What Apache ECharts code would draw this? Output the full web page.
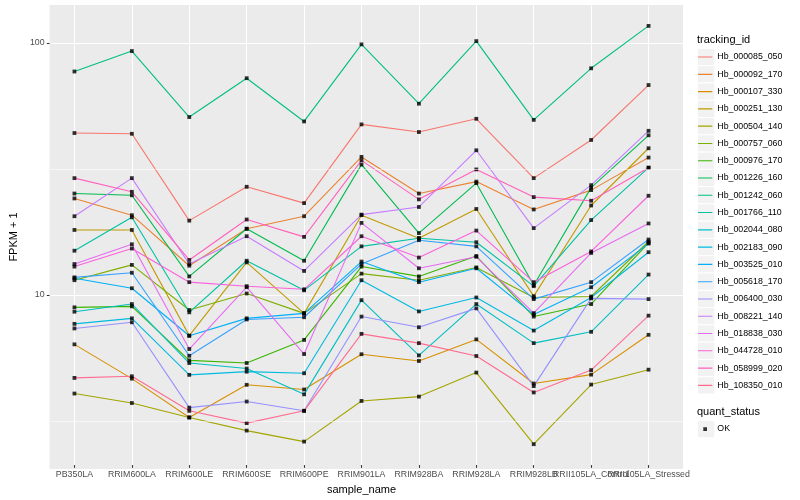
<!DOCTYPE html>
<html><head><meta charset="utf-8">
<script src="https://cdn.jsdelivr.net/npm/echarts@6/dist/echarts.min.js"></script>
<style>html,body{margin:0;padding:0;background:#fff}#c{width:800px;height:500px}</style>
</head><body><div id="c"></div>
<script>
const categories = ['PB350LA','RRIM600LA','RRIM600LE','RRIM600SE','RRIM600PE','RRIM901LA','RRIM928BA','RRIM928LA','RRIM928LB','RRII105LA_Control','RRII105LA_Stressed'];
const seriesNames = ['Hb_000085_050','Hb_000092_170','Hb_000107_330','Hb_000251_130','Hb_000504_140','Hb_000757_060','Hb_000976_170','Hb_001226_160','Hb_001242_060','Hb_001766_110','Hb_002044_080','Hb_002183_090','Hb_003525_010','Hb_005618_170','Hb_006400_030','Hb_008221_140','Hb_018838_030','Hb_044728_010','Hb_058999_020','Hb_108350_010'];
const seriesColors = ['#F8766D','#EA8331','#D89000','#C09B00','#A3A500','#7CAE00','#39B600','#00BB4E','#00BF7D','#00C1A3','#00BFC4','#00BAE0','#00B0F6','#35A2FF','#9590FF','#C77CFF','#E76BF3','#FA62DB','#FF62BC','#FF6C91'];

const hb000085_050 = [43.5, 43.2, 19.4, 26.5, 22.8, 47.1, 43.9, 49.6, 28.7, 40.8, 67.7];
const hb000092_170 = [23.8, 20.4, 12.8, 18.0, 20.2, 34.9, 24.9, 27.8, 21.5, 25.7, 34.7];
const hb000107_330 = [6.2, 4.52, 3.16, 4.27, 4.09, 5.66, 5.32, 6.49, 4.32, 4.69, 6.77];
const hb000251_130 = [17.8, 17.8, 6.72, 13.2, 8.25, 20.4, 16.5, 21.6, 9.67, 22.3, 37.8];
const hb000504_140 = [3.94, 3.61, 3.16, 2.80, 2.53, 3.68, 3.83, 4.78, 2.47, 4.28, 4.91];
const hb000757_060 = [11.2, 12.9, 8.51, 9.91, 8.25, 11.9, 11.2, 12.6, 9.55, 9.64, 16.0];
const hb000976_170 = [8.72, 8.80, 5.35, 5.22, 6.46, 12.7, 11.6, 14.0, 8.01, 8.99, 15.8];
const hb001226_160 = [24.9, 24.5, 11.6, 18.0, 13.4, 32.5, 17.3, 27.4, 10.7, 26.3, 42.6];
const hb001242_060 = [76.7, 92.6, 50.4, 72.1, 48.4, 98.5, 57.0, 101.5, 49.1, 79.0, 116.8];
const hb001766_110 = [14.7, 20.0, 8.33, 13.4, 10.2, 15.3, 16.5, 15.9, 10.6, 19.5, 31.6];
const hb002044_080 = [8.38, 8.99, 5.22, 4.96, 3.91, 9.32, 5.60, 8.99, 6.27, 6.96, 11.8];
const hb002183_090 = [7.49, 7.88, 4.68, 4.82, 4.75, 11.2, 8.40, 9.55, 7.04, 9.55, 14.5];
const hb003525_010 = [11.4, 10.4, 6.71, 7.88, 8.25, 13.3, 11.0, 12.5, 8.16, 10.5, 15.7];
const hb005618_170 = [11.5, 12.0, 5.58, 7.80, 7.96, 13.0, 16.2, 15.3, 9.41, 11.0, 16.3];
const hb006400_030 = [7.18, 7.60, 3.46, 3.66, 3.36, 8.01, 7.26, 8.64, 4.22, 9.47, 9.41];
const hb008221_140 = [20.2, 28.7, 13.0, 16.8, 12.2, 20.5, 22.0, 37.1, 18.1, 26.9, 44.4];
const hb018838_030 = [13.0, 15.6, 5.94, 10.5, 5.67, 19.0, 12.5, 13.9, 8.27, 14.4, 18.9];
const hb044728_010 = [12.7, 15.0, 11.0, 10.6, 10.3, 16.8, 13.8, 17.7, 11.0, 14.6, 24.4];
const hb058999_020 = [28.7, 25.3, 13.5, 19.6, 16.7, 33.8, 23.6, 31.1, 24.1, 23.3, 31.6];
const hb108350_010 = [4.55, 4.62, 3.36, 3.00, 3.36, 6.83, 6.27, 5.57, 3.98, 4.89, 8.08];

const yBreaks = [10, 100];
const yMinorBreaks = [3.1623, 31.623];
const yLimits = [2.037, 141.6];

const allSeries = [hb000085_050, hb000092_170, hb000107_330, hb000251_130, hb000504_140, hb000757_060, hb000976_170, hb001226_160, hb001242_060, hb001766_110, hb002044_080, hb002183_090, hb003525_010, hb005618_170, hb006400_030, hb008221_140, hb018838_030, hb044728_010, hb058999_020, hb108350_010];

const FONT = 'Liberation Sans, Arial, Helvetica, sans-serif';
const KEY = 17.28;
const LEG_TOP = 48.4;
const OK_TOP = 420.4;

const linePath = 'path://M0,0L0.01,0L0,0.01Z M0,8.1L14.3,8.1L14.3,9.2L0,9.2Z M14.3,17.28L14.29,17.28L14.3,17.27Z';
const sqPath = 'path://M0,0L0.01,0L0,0.01Z M5.3,6.8L9.0,6.8L9.0,10.5L5.3,10.5Z M14.3,17.28L14.29,17.28L14.3,17.27Z';

const keyRects = [];
for (let i = 0; i < seriesNames.length; i++) {
  keyRects.push({type:'rect', silent:true, z:-1, shape:{x:697.5, y:LEG_TOP + i*KEY, width:KEY, height:KEY}, style:{fill:'#F2F2F2', stroke:'#FFFFFF', lineWidth:1}});
}
keyRects.push({type:'rect', silent:true, z:-1, shape:{x:697.5, y:OK_TOP, width:KEY, height:KEY}, style:{fill:'#F2F2F2', stroke:'#FFFFFF', lineWidth:1}});

const lineSeries = seriesNames.map((name, k) => ({
  name: name,
  type: 'line',
  xAxisIndex: 1, yAxisIndex: 1,
  data: allSeries[k],
  showSymbol: false,
  symbol: 'none',
  silent: true,
  z: 2,
  itemStyle: {color: seriesColors[k]},
  lineStyle: {color: seriesColors[k], width: 1.1}
}));

const pointData = [];
allSeries.forEach(arr => arr.forEach((v, i) => pointData.push([categories[i], v])));

const option = {
  animation: false,
  textStyle: {fontFamily: FONT},
  title: [
    {text:'tracking_id', left:697, top:34.5, padding:0, textStyle:{fontSize:11, fontWeight:'normal', color:'#000', fontFamily:FONT}},
    {text:'quant_status', left:697, top:406, padding:0, textStyle:{fontSize:11, fontWeight:'normal', color:'#000', fontFamily:FONT}}
  ],
  legend: [
    {data: seriesNames, orient:'vertical', left:698, top:LEG_TOP, padding:0, itemGap:0, itemWidth:14.3, itemHeight:KEY, icon: linePath, selectedMode:false, itemStyle:{borderWidth:0}, textStyle:{fontSize:8.8, color:'#000', fontFamily:FONT}},
    {data: ['OK'], orient:'vertical', left:698, top:OK_TOP, padding:0, itemGap:0, itemWidth:14.3, itemHeight:KEY, icon: sqPath, selectedMode:false, itemStyle:{borderWidth:0}, textStyle:{fontSize:8.8, color:'#000', fontFamily:FONT}}
  ],
  graphic: keyRects,
  grid: [
    {left:40, right:117, top:5, bottom:31, show:true, backgroundColor:'#EBEBEB', borderWidth:0, containLabel:false},
    {left:45.74, right:122.74, top:5, bottom:31, show:false, containLabel:false}
  ],
  xAxis: [
    {type:'value', gridIndex:0, min:0, max:1, show:false},
    {type:'category', gridIndex:1, data:categories, boundaryGap:true,
     name:'sample_name', nameLocation:'middle', nameGap:14, nameTextStyle:{fontSize:11, color:'#000', fontFamily:FONT},
     axisLine:{show:false},
     axisTick:{show:true, alignWithLabel:true, interval:0, length:2.75, lineStyle:{color:'#333333', width:1.07}},
     axisLabel:{interval:0, hideOverlap:false, margin:5, fontSize:8.8, color:'#4D4D4D', fontFamily:FONT},
     splitLine:{show:true, alignWithLabel:true, interval:0, lineStyle:{color:'#FFFFFF', width:1.07}}}
  ],
  yAxis: [
    {type:'log', gridIndex:0, logBase:10, min:yLimits[0], max:yLimits[1],
     name:'FPKM + 1', nameLocation:'middle', nameGap:23, nameTextStyle:{fontSize:11, color:'#000', fontFamily:FONT},
     axisLine:{show:false},
     axisTick:{show:true, customValues: yBreaks, length:2.75, lineStyle:{color:'#333333', width:1.07}},
     axisLabel:{customValues: yBreaks, margin:5, fontSize:8.8, color:'#4D4D4D', fontFamily:FONT,
       formatter: v => yBreaks.some(b => Math.abs(b - v) < 1e-6 * b) ? String(Math.round(v)) : ''},
     splitLine:{show:true, lineStyle:{color:'#FFFFFF', width:1.07}}},
    {type:'log', gridIndex:1, logBase:10, min:yLimits[0], max:yLimits[1], show:false,
     axisLine:{show:false}, axisTick:{show:false}, axisLabel:{show:false}, splitLine:{show:false}}
  ],
  series: [
    {name:'minor', type:'line', xAxisIndex:0, yAxisIndex:0, data:[], silent:true,
     markLine:{silent:true, symbol:['none','none'], label:{show:false}, animation:false,
       lineStyle:{color:'#FFFFFF', width:0.55, type:'solid'},
       data: yMinorBreaks.map(b => ({yAxis: b}))}}
  ].concat(lineSeries).concat([
    {name:'OK', type:'scatter', xAxisIndex:1, yAxisIndex:1, data:pointData, symbol:'rect', symbolSize:3.8, silent:true, z:3, itemStyle:{color:'#000000'}}
  ])
};

const chart = echarts.init(document.getElementById('c'), null, {renderer:'canvas'});
chart.setOption(option);
</script>
</body></html>
